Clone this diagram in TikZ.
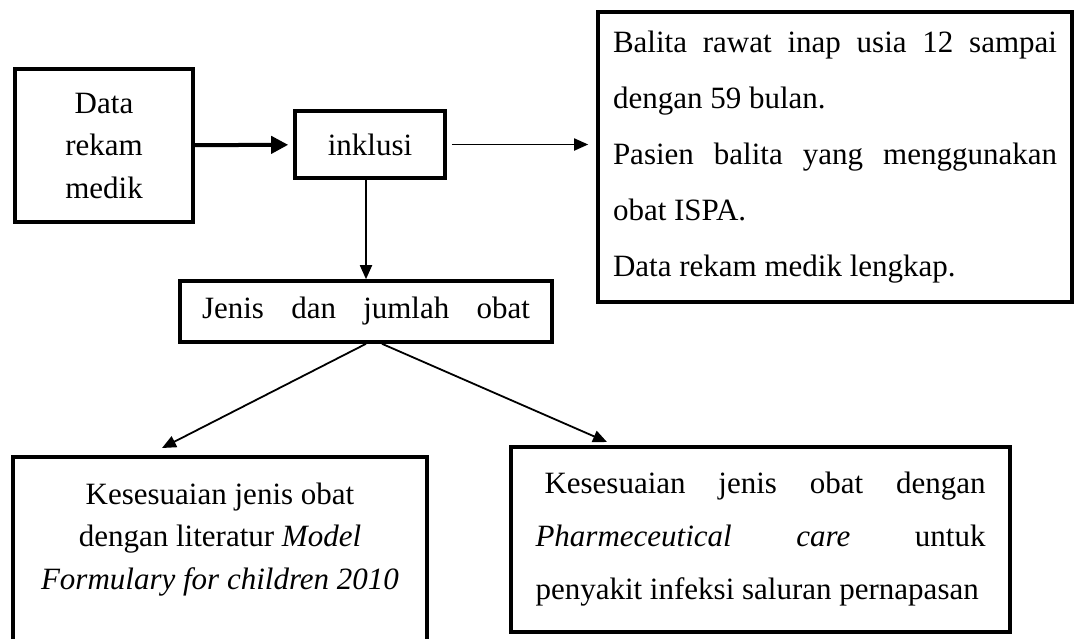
\documentclass[tikz,border=0pt]{standalone}
\usepackage{fontspec}
\setmainfont{Liberation Serif}
\usetikzlibrary{arrows.meta,positioning,calc}

\tikzset{
    kotak/.style={draw, line width=3.6pt, inner sep=0pt, font=\fontsize{31}{42.5}\selectfont},
    panah/.style={line width=1.8pt, -{Triangle[length=14pt,width=12pt]}},
    panahtebal/.style={line width=4pt, -{Triangle[length=17pt,width=17pt]}}
}
\newcommand{\rata}[1]{\makebox[\linewidth][s]{#1}}

\begin{document}
\begin{tikzpicture}[x=1pt,y=-1pt]
    \useasboundingbox (0,0) rectangle (1074,638);
    \clip (0,0) rectangle (1074,638);

    \node[kotak, minimum width=178pt, minimum height=153pt, align=center] (data) at (104,145.5) {Data\\rekam\\medik};
    \node[kotak, minimum width=150pt, minimum height=67pt] (inklusi) at (370,144.5) {inklusi};
    \node[kotak, minimum width=474pt, minimum height=290pt, font=\fontsize{31}{56}\selectfont] (kriteria) at (835,157)
        {\parbox{444pt}{\rata{Balita rawat inap usia 12 sampai}\\
         dengan 59 bulan.\\
         \rata{Pasien balita yang menggunakan}\\
         obat ISPA.\\
         Data rekam medik lengkap.}};
    \node[kotak, minimum width=372pt, minimum height=61pt] (jenis) at (366,311.5) {\makebox[328pt][s]{Jenis dan jumlah obat}};

    % kotak kiri bawah terpotong di tepi gambar
    \node[kotak, anchor=north] (literatur) at (220,455)
        {\parbox[c][210pt][t]{414pt}{\centering\vspace*{26pt}Kesesuaian jenis obat\\
         dengan literatur \textit{Model}\\
         \textit{Formulary for children 2010}}};
    \node[kotak, minimum width=499pt, minimum height=185pt, font=\fontsize{31}{53}\selectfont] (farmasi) at (760.5,539.5)
        {\parbox{450pt}{\rata{\hspace{9pt}Kesesuaian jenis obat dengan}\\
         \rata{\textit{Pharmeceutical} \textit{care} untuk}\\
         penyakit infeksi saluran pernapasan}};

    \coordinate (ujungkiri) at (162,448);
    \coordinate (ujungkanan) at (607,442);

    \draw[panahtebal, shorten >=5pt] (data) -- (inklusi);
    \draw[panah, shorten <=5pt, shorten >=8pt] (inklusi.east) -- (kriteria.west |- inklusi.east);
    \draw[panah] (inklusi.south -| jenis.north) -- (jenis.north);
    \draw[panah] (jenis.south) -- (ujungkiri);
    \draw[panah] ([xshift=16pt]jenis.south) -- (ujungkanan);
\end{tikzpicture}
\end{document}
